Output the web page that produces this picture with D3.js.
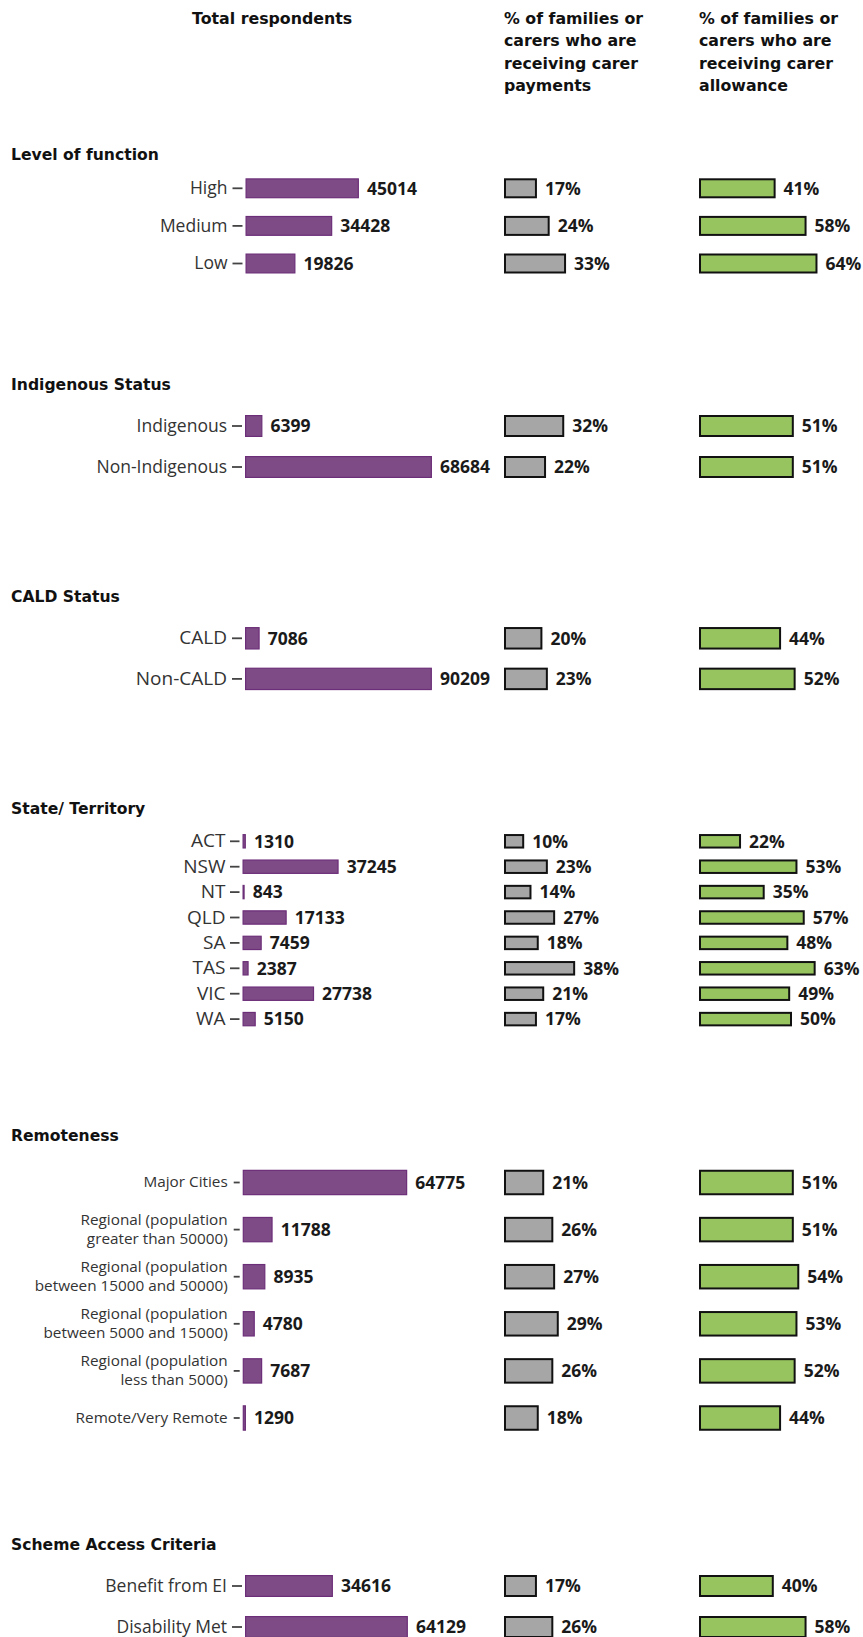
<!DOCTYPE html>
<html><head><meta charset="utf-8">
<script src="https://cdn.jsdelivr.net/npm/d3@7"></script>
<style>body{margin:0;background:#fff} svg{display:block}</style>
</head><body><svg id="chart"></svg>
<script>
// ---------- DATA ----------
const columnHeaders = [
  ["Total respondents"],
  ["% of families or", "carers who are", "receiving carer", "payments"],
  ["% of families or", "carers who are", "receiving carer", "allowance"]
];
const sections = ["Level of function", "Indigenous Status", "CALD Status", "State/ Territory", "Remoteness", "Scheme Access Criteria"];
const categories = ["High", "Medium", "Low", "Indigenous", "Non-Indigenous", "CALD", "Non-CALD",
  "ACT", "NSW", "NT", "QLD", "SA", "TAS", "VIC", "WA",
  "Major Cities", "Regional (population greater than 50000)", "Regional (population between 15000 and 50000)",
  "Regional (population between 5000 and 15000)", "Regional (population less than 5000)", "Remote/Very Remote",
  "Benefit from EI", "Disability Met"];
const sectionOf = [0,0,0,1,1,2,2,3,3,3,3,3,3,3,3,4,4,4,4,4,4,5,5];
const totalRespondents = [45014,34428,19826,6399,68684,7086,90209,1310,37245,843,17133,7459,2387,27738,5150,64775,11788,8935,4780,7687,1290,34616,64129];
const carerPaymentPct = [17,24,33,32,22,20,23,10,23,14,27,18,38,21,17,21,26,27,29,26,18,17,26];
const carerAllowancePct = [41,58,64,51,51,44,52,22,53,35,57,48,63,49,50,51,51,54,53,52,44,40,58];

// ---------- LAYOUT ----------
const W = 863, H = 1637;
const layout = [
  {title:154,  c0:188.3,  step:37.6, bh:20,   xMax:75400, x0:245.5, fs:17.5, tick:10,  pad:5},
  {title:384,  c0:426,    step:41,   bh:22,   xMax:69800, x0:245,   fs:17.5, tick:10,  pad:5},
  {title:596,  c0:638.3,  step:40.6, bh:22.5, xMax:91700, x0:245,   fs:19,   tick:10,  pad:5},
  {title:808,  c0:841.3,  step:25.4, bh:14.5, xMax:73600, x0:242.5, fs:19,   tick:9.5, pad:4.5},
  {title:1135, c0:1182.5, step:47.1, bh:25.5, xMax:74800, x0:242.7, fs:15.3, tick:6,   pad:6},
  {title:1544, c0:1586,   step:41,   bh:22,   xMax:74800, x0:245,   fs:17.5, tick:10,  pad:5}
];
const headerX = [192, 504, 699];
const purple = "#7e4b86", purpleStroke = "#6c2e78";
const grey = "#a6a6a6", green = "#97c45f", dark = "#111";
const labelFont = "'Open Sans', 'Noto Sans', sans-serif";
const titleFont = "'DejaVu Sans', sans-serif";

const svg = d3.select("#chart").attr("width", W).attr("height", H);
svg.append("rect").attr("width", W).attr("height", H).attr("fill", "#fff");

// headers
columnHeaders.forEach((lines, ci) => {
  const t = svg.append("text").attr("x", headerX[ci]).attr("y", 24)
    .attr("font-family", titleFont).attr("font-weight", "bold").attr("font-size", 15.8).attr("fill", dark);
  lines.forEach((l, i) => t.append("tspan").attr("x", headerX[ci]).attr("dy", i ? 22.4 : 0).text(l));
});

const xGrey = d3.scaleLinear().domain([0, 100]).range([505, 687]);
const xGreen = d3.scaleLinear().domain([0, 100]).range([700, 882]);

const rows = categories.map((c, i) => ({cat: c, sec: sectionOf[i], total: totalRespondents[i], pay: carerPaymentPct[i], allow: carerAllowancePct[i]}));

sections.forEach((name, si) => {
  const L = layout[si];
  const data = rows.filter(r => r.sec === si);
  const n = data.length;
  const p = 1 - L.bh / L.step;
  const y0 = L.c0 - L.step / 2;
  const y = d3.scaleBand().domain(data.map(d => d.cat)).range([y0, y0 + n * L.step])
    .paddingInner(p).paddingOuter(p / 2);
  const xP = d3.scaleLinear().domain([0, L.xMax]).range([L.x0, L.x0 + 190]);

  const g = svg.append("g");
  g.append("text").attr("x", 11).attr("y", L.title + 5.7)
    .attr("font-family", titleFont).attr("font-weight", "bold").attr("font-size", 15.6)
    .attr("fill", dark).text(name);

  // axis
  const ax = g.append("g").attr("transform", `translate(${L.x0 - 3},0)`)
    .call(d3.axisLeft(y).tickSizeOuter(0).tickSizeInner(L.tick).tickPadding(L.pad));
  ax.select(".domain").remove();
  ax.selectAll(".tick line").attr("stroke", "#444").attr("stroke-width", 1.8);
  ax.selectAll(".tick text").attr("font-family", labelFont).attr("font-size", L.fs).attr("fill", "#333")
    .each(function(d) {
      const m = /^(Regional \(population) (.*)$/.exec(d);
      if (m) {
        const t = d3.select(this).text(null);
        const xx = t.attr("x");
        t.append("tspan").attr("x", xx).attr("dy", "-0.29em").text(m[1]);
        t.append("tspan").attr("x", xx).attr("dy", "1.2em").text(m[2]);
      }
    });

  // purple bars
  g.selectAll(".pb").data(data).join("rect")
    .attr("x", xP(0) + 0.6).attr("y", d => y(d.cat) + 0.6)
    .attr("width", d => Math.max(0, xP(d.total) - xP(0) - 1.2)).attr("height", y.bandwidth() - 1.2)
    .attr("fill", purple).attr("stroke", purpleStroke).attr("stroke-width", 1.2);
  g.selectAll(".pl").data(data).join("text")
    .attr("x", d => xP(d.total) + 8).attr("y", d => y(d.cat) + y.bandwidth() / 2).attr("dy", "0.36em")
    .attr("font-family", labelFont).attr("font-weight", "bold").attr("font-size", 17.5).attr("fill", "#1a1a1a")
    .text(d => d.total);

  // grey bars
  g.selectAll(".gb").data(data).join("rect")
    .attr("x", xGrey(0)).attr("y", d => y(d.cat) + 1)
    .attr("width", d => xGrey(d.pay) - xGrey(0)).attr("height", y.bandwidth() - 2)
    .attr("fill", grey).attr("stroke", dark).attr("stroke-width", 2);
  g.selectAll(".gl").data(data).join("text")
    .attr("x", d => xGrey(d.pay) + 9).attr("y", d => y(d.cat) + y.bandwidth() / 2).attr("dy", "0.36em")
    .attr("font-family", labelFont).attr("font-weight", "bold").attr("font-size", 17.5).attr("fill", "#1a1a1a")
    .text(d => d.pay + "%");

  // green bars
  g.selectAll(".vb").data(data).join("rect")
    .attr("x", xGreen(0)).attr("y", d => y(d.cat) + 1)
    .attr("width", d => xGreen(d.allow) - xGreen(0)).attr("height", y.bandwidth() - 2)
    .attr("fill", green).attr("stroke", dark).attr("stroke-width", 2);
  g.selectAll(".vl").data(data).join("text")
    .attr("x", d => xGreen(d.allow) + 9).attr("y", d => y(d.cat) + y.bandwidth() / 2).attr("dy", "0.36em")
    .attr("font-family", labelFont).attr("font-weight", "bold").attr("font-size", 17.5).attr("fill", "#1a1a1a")
    .text(d => d.allow + "%");
});
</script>
</body></html>
